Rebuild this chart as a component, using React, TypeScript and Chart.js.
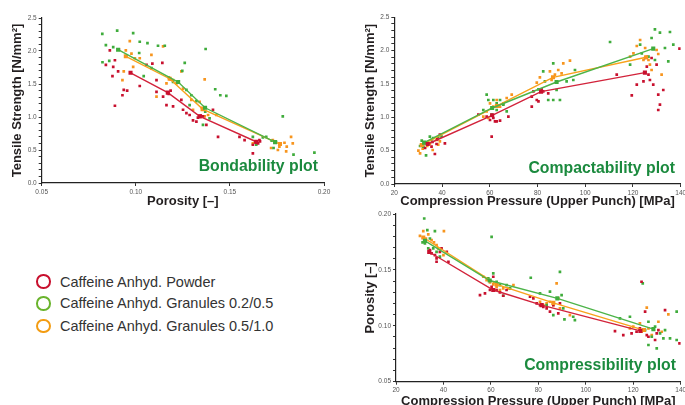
import React, { useEffect, useRef } from "react";
import { Chart, registerables } from "chart.js";

Chart.register(...registerables);

const FONT = "'Liberation Sans', Arial, Helvetica, sans-serif";

// ---------- series ----------
const seriesNames = [
  "Caffeine Anhyd. Powder",
  "Caffeine Anhyd. Granules 0.2/0.5",
  "Caffeine Anhyd. Granules 0.5/1.0",
];
const pointColors = ["#c8102e", "#3fac3c", "#f7951e"];
const lineColors = ["#d2233b", "#4db449", "#f8a21c"];
const legendColors = ["#c8102e", "#6ab42d", "#f39c12"];

// ---------- Bondability: porosity [-] vs tensile strength ----------
const bondPowderMean = [[0.0972, 1.67], [0.117, 1.37], [0.134, 1.01], [0.164, 0.625]];
const bondGran02Mean = [[0.0906, 2.02], [0.1225, 1.53], [0.1368, 1.14], [0.174, 0.62]];
const bondGran05Mean = [[0.0947, 1.92], [0.118, 1.58], [0.1355, 1.12], [0.1766, 0.59]];

const bondPowder = [
  [0.0841, 1.79], [0.0862, 2.01], [0.091, 2.02], [0.0889, 1.86], [0.088, 1.76], [0.0906, 1.69],
  [0.0876, 1.62], [0.0936, 1.41], [0.0929, 1.33], [0.0889, 1.17], [0.0954, 1.4], [0.1021, 1.47],
  [0.1057, 1.79], [0.1088, 1.81], [0.1141, 1.82], [0.111, 1.56], [0.111, 1.38], [0.1145, 1.31],
  [0.1163, 1.18], [0.1198, 1.16], [0.1242, 1.26], [0.1251, 1.11], [0.1269, 1.06], [0.1304, 0.95],
  [0.1322, 0.93], [0.1357, 1.01], [0.141, 1.11], [0.1437, 0.7], [0.1551, 0.7], [0.1578, 0.65],
  [0.1622, 0.58], [0.164, 0.61], [0.1622, 0.45], [0.1657, 0.65], [0.1375, 0.88], [0.1286, 1.03],
  [0.1635, 0.62], [0.165, 0.6], [0.166, 0.63], [0.1175, 1.35], [0.1185, 1.4], [0.133, 0.99],
  [0.1345, 1.02],
];
const bondGran02 = [
  [0.0822, 2.26], [0.0901, 2.31], [0.0986, 2.27], [0.0841, 2.09], [0.088, 2.06], [0.0859, 1.85],
  [0.0823, 1.83], [0.1021, 2.14], [0.1062, 2.12], [0.1018, 1.97], [0.1118, 2.08], [0.1154, 2.08],
  [0.1083, 1.74], [0.1042, 1.62], [0.126, 1.82], [0.1247, 1.7], [0.1198, 1.53], [0.1269, 1.41],
  [0.1295, 1.33], [0.1322, 1.24], [0.1371, 2.03], [0.1422, 1.42], [0.1449, 1.33], [0.1481, 1.32],
  [0.1369, 1.08], [0.1286, 1.18], [0.1357, 0.88], [0.1392, 0.98], [0.1622, 0.7], [0.1675, 0.69],
  [0.1732, 0.53], [0.1781, 1.01], [0.1838, 0.43], [0.1949, 0.46], [0.164, 0.58], [0.1763, 0.6],
  [0.1693, 0.7], [0.1722, 0.64], [0.1745, 0.62],
];
const bondGran05 = [
  [0.0968, 2.15], [0.0947, 2.01], [0.0977, 1.96], [0.0995, 1.89], [0.1021, 1.89], [0.1083, 1.94],
  [0.1145, 2.07], [0.0936, 1.69], [0.0929, 1.56], [0.0986, 1.76], [0.111, 1.31], [0.1163, 1.51],
  [0.1198, 1.56], [0.1216, 1.51], [0.1251, 1.43], [0.1295, 1.26], [0.1339, 1.23], [0.1366, 1.57],
  [0.1366, 1.01], [0.1384, 1.03], [0.1428, 1.03], [0.1304, 1.11], [0.1728, 0.65], [0.1763, 0.55],
  [0.179, 0.61], [0.1802, 0.55], [0.1825, 0.7], [0.1834, 0.6], [0.1755, 0.5], [0.1799, 0.48],
  [0.1719, 0.53], [0.1622, 0.6], [0.1242, 1.69], [0.1176, 1.6], [0.1185, 1.57], [0.1352, 1.14],
];

// ---------- Compactability: pressure [MPa] vs tensile strength ----------
const compPowderMean = [[34, 0.6], [61, 1.03], [81.5, 1.385], [125, 1.67]];
const compGran02Mean = [[32.5, 0.62], [61, 1.14], [88, 1.53], [128.5, 2.03]];
const compGran05Mean = [[31.5, 0.585], [63, 1.17], [86.5, 1.6], [125.5, 1.9]];

const compPowder = [
  [32.9, 0.54], [35.6, 0.56], [37, 0.45], [37.7, 0.6], [39.1, 0.74], [41.2, 0.61], [55.2, 1.04],
  [58.7, 1.01], [60.1, 0.96], [60.8, 0.71], [61.5, 0.99], [62.2, 0.94], [62.9, 0.94], [64.3, 0.95],
  [67.8, 1.01], [77.6, 1.31], [78.3, 1.39], [79.7, 1.26], [81.7, 1.42], [82.4, 1.39], [84.5, 1.36],
  [80.4, 1.24], [77.6, 1.16], [113.2, 1.64], [119.5, 1.33], [121.6, 1.49], [124.4, 1.54],
  [125.1, 1.89], [126.5, 1.64], [127.1, 1.56], [127.8, 1.89], [128.5, 1.49], [129.9, 1.79],
  [130.6, 1.34], [131.3, 1.19], [132.7, 1.41], [139.5, 2.03], [130.6, 1.11], [125.8, 1.76],
  [36, 0.63], [38, 0.67],
];
const compGran02 = [
  [31.5, 0.65], [32.2, 0.56], [33.3, 0.43], [34.9, 0.71], [36.3, 0.69], [38.4, 0.7], [39.8, 0.71],
  [30.8, 0.57], [58.7, 1.34], [59.4, 1.26], [61.5, 1.26], [62.9, 1.21], [64.3, 1.26], [65.7, 1.19],
  [57.3, 1.11], [60.8, 1.04], [62.9, 1.11], [67.1, 1.09], [80.4, 1.42], [82.4, 1.69], [86.6, 1.81],
  [83.1, 1.54], [84.5, 1.26], [86.6, 1.26], [89.4, 1.26], [88, 1.41], [95.7, 1.71], [95, 1.56],
  [92.2, 1.54], [110.4, 2.13], [118.8, 1.79], [123, 2.09], [123.7, 1.96], [127.8, 2.19],
  [129.2, 2.32], [131.3, 2.27], [133.4, 2.04], [134.8, 1.84], [135.5, 2.28], [136.9, 2.09],
  [129.2, 1.86], [126.5, 1.91], [34, 0.62], [35.5, 0.66],
];
const compGran05 = [
  [30.1, 0.5], [30.8, 0.46], [31.9, 0.53], [32.9, 0.61], [33.8, 0.57], [34.9, 0.6], [36.1, 0.51],
  [37.7, 0.66], [38.4, 0.59], [39.1, 0.64], [57.3, 1.01], [58.7, 1.09], [60.1, 1.21], [61.5, 1.16],
  [62.9, 1.26], [64.3, 1.16], [65.7, 1.21], [67.1, 1.29], [69.2, 1.34], [59.4, 0.99], [79.7, 1.52],
  [81, 1.6], [85.2, 1.69], [85.9, 1.56], [87.3, 1.64], [88.7, 1.71], [90.1, 1.66], [90.8, 1.81],
  [93.6, 1.85], [118.8, 1.91], [120.2, 1.96], [121.6, 2.07], [123, 2.16], [125.1, 2.04],
  [125.8, 1.91], [126.5, 1.86], [127.1, 1.79], [127.8, 1.71], [130.6, 1.95], [132, 1.64],
  [129.9, 2.01], [124.4, 1.86],
];

// ---------- Compressibility: pressure [MPa] vs porosity [-] ----------
const pressPowderMean = [[34, 0.166], [61, 0.132], [81.4, 0.1185], [123, 0.0955]];
const pressGran02Mean = [[32.2, 0.176], [59.5, 0.1405], [88, 0.1245], [128.5, 0.097]];
const pressGran05Mean = [[31.5, 0.179], [62.4, 0.137], [86.3, 0.1205], [124.5, 0.0962]];

const pressPowder = [
  [34.3, 0.1677], [35, 0.1647], [36.4, 0.1632], [37.1, 0.1603], [38.5, 0.1662], [39.2, 0.1692],
  [37.1, 0.1573], [41.4, 0.1662], [42.1, 0.1573], [55.4, 0.1275], [57.5, 0.129], [59.6, 0.132],
  [60.3, 0.1349], [61, 0.1439], [62.4, 0.132], [63.8, 0.1299], [65.2, 0.1269], [66.6, 0.132],
  [76.5, 0.126], [77.9, 0.1245], [79.3, 0.12], [80.7, 0.1185], [82.1, 0.117], [83.5, 0.1156],
  [84.9, 0.1126], [86.3, 0.1185], [88.4, 0.1111], [89.1, 0.12], [112.3, 0.0953], [115.8, 0.0917],
  [119.3, 0.0932], [121.4, 0.0947], [122.8, 0.0977], [123.5, 0.1394], [125, 0.1126],
  [125.7, 0.0917], [126.4, 0.0902], [128.5, 0.0977], [129.2, 0.0873], [129.9, 0.0932],
  [130.6, 0.0962], [133.4, 0.1141], [139.5, 0.0843],
];
const pressGran02 = [
  [31.9, 0.196], [33.2, 0.1856], [36.4, 0.1847], [31.2, 0.1746], [32.2, 0.1737], [34.3, 0.1781],
  [33.6, 0.1692], [35.7, 0.1692], [37.1, 0.1662], [38.5, 0.1618], [60.3, 0.1796], [58.9, 0.1424],
  [61, 0.1469], [62.4, 0.1394], [63.8, 0.1364], [65.2, 0.1269], [66.6, 0.1364], [68.1, 0.1334],
  [76.8, 0.143], [80.7, 0.129], [84.9, 0.1305], [89.1, 0.1483], [89.8, 0.1275], [86.3, 0.1096],
  [83.5, 0.1185], [90.5, 0.1156], [94.7, 0.1081], [95.4, 0.1051], [91, 0.1057], [114.4, 0.1066],
  [118.6, 0.1081], [125, 0.0962], [126.4, 0.1036], [127.8, 0.0902], [129.2, 0.0992],
  [131.3, 0.0932], [132.7, 0.0887], [133.4, 0.0962], [135.5, 0.0887], [138.3, 0.1126],
  [138.3, 0.0873], [126.4, 0.0828], [129.9, 0.0798], [124, 0.138],
];
const pressGran05 = [
  [30.1, 0.1805], [31.5, 0.1847], [32.6, 0.1781], [33.6, 0.1817], [35, 0.1767], [36, 0.1746],
  [37.1, 0.1722], [37.8, 0.1692], [40.2, 0.1847], [40, 0.1632], [56.8, 0.1439], [58.2, 0.1409],
  [59.6, 0.1388], [61, 0.137], [62.4, 0.1349], [63.8, 0.132], [65.2, 0.1334], [67.3, 0.1334],
  [69.5, 0.1364], [80.7, 0.1215], [82.1, 0.1185], [83.5, 0.12], [84.9, 0.1215], [86.3, 0.1185],
  [87.7, 0.1379], [88.4, 0.1245], [89.1, 0.1156], [93.3, 0.1096], [118.6, 0.0977], [120, 0.0992],
  [122.8, 0.1022], [123.5, 0.0947], [125.7, 0.1162], [127.8, 0.0917], [130.6, 0.1036],
  [132, 0.0947], [134.8, 0.1102], [126.4, 0.0977],
];

// ---------- axis tick settings ----------
const porosityTicks = [0.05, 0.1, 0.15, 0.2];
const tensileTicks = [0, 0.5, 1, 1.5, 2, 2.5];
const pressureTicks = [20, 40, 60, 80, 100, 120, 140];

type Spec = {
  left: number; top: number; width: number; height: number;
  padRight: number; padTop: number; yWidth: number; xHeight: number;
  yTitlePad: number; xTitlePad: number;
  xTicks: number[]; xStep: number; xDec: number;
  yTicks: number[]; yStep: number; yDec: number;
  xTitle: string; yTitle: string;
  means: number[][][]; scatter: number[][][];
};

const toPts = (a: number[][]) => a.map(([x, y]) => ({ x, y }));

function buildConfig(s: Spec): any {
  const datasets: any[] = [];
  s.means.forEach((m, i) => {
    datasets.push({
      data: toPts(m),
      showLine: true,
      borderColor: lineColors[i],
      borderWidth: 1.4,
      pointStyle: "rect",
      pointRadius: 2.9,
      pointBackgroundColor: pointColors[i],
      pointBorderWidth: 0,
    });
  });
  s.scatter.forEach((d, i) => {
    datasets.push({
      data: toPts(d),
      showLine: false,
      pointStyle: "rect",
      pointRadius: 1.9,
      pointBackgroundColor: pointColors[i],
      pointBorderWidth: 0,
    });
  });
  const yMajor = s.yTicks[1] - s.yTicks[0];
  const tickFont = { size: 6.5, family: FONT };
  const titleFont = { size: 13, weight: "bold" as const, family: FONT };
  return {
    type: "scatter",
    data: { datasets },
    options: {
      animation: false,
      responsive: false,
      maintainAspectRatio: false,
      events: [],
      layout: { padding: { left: 0, right: s.padRight, top: s.padTop, bottom: 0 } },
      plugins: { legend: { display: false }, tooltip: { enabled: false } },
      scales: {
        x: {
          type: "linear",
          min: s.xTicks[0],
          max: s.xTicks[s.xTicks.length - 1],
          ticks: {
            stepSize: s.xStep,
            autoSkip: false,
            maxRotation: 0,
            padding: 2,
            color: "#555",
            font: tickFont,
            callback: (v: any) => Number(v).toFixed(s.xDec),
          },
          grid: { drawOnChartArea: false, drawTicks: true, tickLength: 3, color: "#333" },
          border: { display: true, color: "#222", width: 1.2 },
          title: {
            display: true, text: s.xTitle, color: "#231f20", font: titleFont,
            padding: { top: 0, bottom: s.xTitlePad },
          },
          afterFit: (ax: any) => { ax.height = s.xHeight; },
        },
        y: {
          type: "linear",
          min: s.yTicks[0],
          max: s.yTicks[s.yTicks.length - 1],
          ticks: {
            stepSize: s.yStep,
            autoSkip: false,
            padding: 2,
            color: "#555",
            font: tickFont,
            callback: (v: any) => {
              const r = Number(v) / yMajor;
              return Math.abs(r - Math.round(r)) < 1e-6 ? Number(v).toFixed(s.yDec) : "";
            },
          },
          grid: { drawOnChartArea: false, drawTicks: true, tickLength: 3, color: "#333" },
          border: { display: true, color: "#222", width: 1.2 },
          title: {
            display: true, text: s.yTitle, color: "#231f20", font: titleFont,
            padding: { top: s.yTitlePad, bottom: 0 },
          },
          afterFit: (ax: any) => { ax.width = s.yWidth; },
        },
      },
    },
  };
}

const specs: Spec[] = [
  {
    left: 0, top: 0, width: 340, height: 212,
    padRight: 16, padTop: 18, yWidth: 41.7, xHeight: 29,
    yTitlePad: 9.4, xTitlePad: 3.2,
    xTicks: porosityTicks, xStep: 0.05, xDec: 2,
    yTicks: tensileTicks, yStep: 0.1, yDec: 1,
    xTitle: "Porosity [–]", yTitle: "Tensile Strength [N/mm²]",
    means: [bondPowderMean, bondGran02Mean, bondGran05Mean],
    scatter: [bondPowder, bondGran02, bondGran05],
  },
  {
    left: 340, top: 0, width: 360, height: 215,
    padRight: 19.3, padTop: 17.3, yWidth: 54.3, xHeight: 31,
    yTitlePad: 23, xTitlePad: 5.7,
    xTicks: pressureTicks, xStep: 20, xDec: 0,
    yTicks: tensileTicks, yStep: 0.1, yDec: 1,
    xTitle: "Compression Pressure (Upper Punch) [MPa]", yTitle: "Tensile Strength [N/mm²]",
    means: [compPowderMean, compGran02Mean, compGran05Mean],
    scatter: [compPowder, compGran02, compGran05],
  },
  {
    left: 340, top: 205, width: 360, height: 215,
    padRight: 19.3, padTop: 9, yWidth: 56, xHeight: 38.3,
    yTitlePad: 22.2, xTitlePad: 10.7,
    xTicks: pressureTicks, xStep: 20, xDec: 0,
    yTicks: porosityTicks, yStep: 0.01, yDec: 2,
    xTitle: "Compression Pressure (Upper Punch) [MPa]", yTitle: "Porosity [–]",
    means: [pressPowderMean, pressGran02Mean, pressGran05Mean],
    scatter: [pressPowder, pressGran02, pressGran05],
  },
];

const plotLabels = [
  { text: "Bondability plot", right: 367, top: 158.1 },
  { text: "Compactability plot", right: 10, top: 160 },
  { text: "Compressibility plot", right: 9, top: 357.3 },
];
const legendTops = [273.7, 295.3, 318];

function ChartCanvas({ spec }: { spec: Spec }) {
  const ref = useRef<HTMLCanvasElement | null>(null);
  useEffect(() => {
    if (!ref.current) return;
    const chart = new Chart(ref.current, buildConfig(spec));
    return () => chart.destroy();
  }, [spec]);
  return (
    <canvas
      ref={ref}
      width={spec.width}
      height={spec.height}
      style={{
        position: "absolute", left: spec.left, top: spec.top,
        width: spec.width, height: spec.height,
      }}
    />
  );
}

export default function App() {
  return (
    <div
      style={{
        position: "absolute", left: 0, top: 0, width: 685, height: 405,
        overflow: "hidden", background: "#ffffff", fontFamily: FONT,
      }}
    >
      {specs.map((s, i) => (
        <ChartCanvas key={i} spec={s} />
      ))}
      {plotLabels.map((l, i) => (
        <div
          key={i}
          style={{
            position: "absolute", right: l.right, top: l.top, whiteSpace: "nowrap",
            font: `bold 15.8px/15.8px ${FONT}`, color: "#1b8a3e",
          }}
        >
          {l.text}
        </div>
      ))}
      {seriesNames.map((n, i) => (
        <div
          key={i}
          style={{
            position: "absolute", left: 36, top: legendTops[i], height: 16,
            display: "flex", alignItems: "center", whiteSpace: "nowrap",
          }}
        >
          <span
            style={{
              display: "inline-block", width: 14.5, height: 14.5, borderRadius: "50%",
              border: `2px solid ${legendColors[i]}`, boxSizing: "border-box",
            }}
          />
          <span style={{ marginLeft: 9.5, font: `14.5px ${FONT}`, color: "#333" }}>{n}</span>
        </div>
      ))}
    </div>
  );
}
